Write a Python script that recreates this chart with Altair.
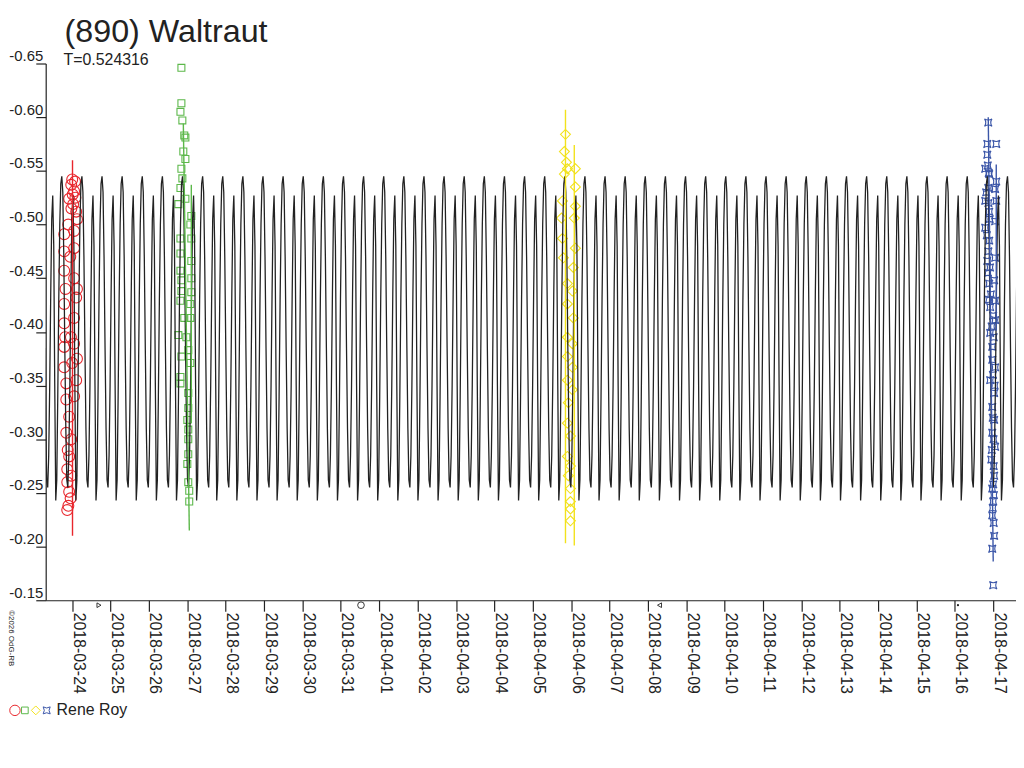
import altair as alt
import pandas as pd

# ---------------- text ----------------
TITLE = "(890) Waltraut"
SUBTITLE = "T=0.524316"
OBSERVER = "Rene Roy"
COPYRIGHT = "\u00a92026 OdG-RB"

# ---------------- axes ----------------
tick_dates = ["2018-03-24", "2018-03-25", "2018-03-26", "2018-03-27", "2018-03-28",
              "2018-03-29", "2018-03-30", "2018-03-31", "2018-04-01", "2018-04-02",
              "2018-04-03", "2018-04-04", "2018-04-05", "2018-04-06", "2018-04-07",
              "2018-04-08", "2018-04-09", "2018-04-10", "2018-04-11", "2018-04-12",
              "2018-04-13", "2018-04-14", "2018-04-15", "2018-04-16", "2018-04-17"]
mag_ticks = [-0.65, -0.60, -0.55, -0.50, -0.45, -0.40, -0.35, -0.30, -0.25, -0.20, -0.15]
x_start = "2018-03-23T07:26:00"
x_end = "2018-04-17T14:15:00"

# ---------------- model lightcurve (one rotation, 20 phase samples) ----------------
period_days = 0.524316
model_epoch = "2018-03-28T10:45:00"   # primary maximum
model_shape = [-0.545, -0.530, -0.470, -0.385, -0.310, -0.262, -0.255, -0.285, -0.350, -0.435,
               -0.505, -0.527, -0.480, -0.350, -0.243, -0.262, -0.340, -0.430, -0.500, -0.538]

# ---------------- sessions ----------------
red_base = "2018-03-24T00:00:00"
red_hours = [0.0, -0.6, 1.2, -1.9, 0.6, 2.5, -5.0, 1.2, -5.0, 1.2, -5.0, 1.2, 2.5, -5.0, 1.2, -5.0,
             1.2, -5.0, 0.0, -5.0, 2.5, -3.7, 1.2, -3.7, -1.9, -3.7, -0.6, -1.9, -3.1, -0.6, -3.1,
             -1.9, -3.1, 1.8, 0.3, 2.0, -0.5, 3.0, -2.5, -1.2, 3.0, -4.2, -0.8, 3.0, -4.4, -2.8,
             -1.0, -2.4]
red_mag = [-0.542, -0.537, -0.531, -0.524, -0.519, -0.512, -0.491, -0.494, -0.475, -0.478, -0.457,
           -0.450, -0.432, -0.426, -0.413, -0.408, -0.389, -0.386, -0.371, -0.367, -0.355, -0.352,
           -0.340, -0.337, -0.321, -0.306, -0.300, -0.284, -0.272, -0.266, -0.260, -0.251, -0.234,
           -0.540, -0.528, -0.525, -0.515, -0.505, -0.500, -0.470, -0.440, -0.440, -0.395, -0.375,
           -0.395, -0.290, -0.245, -0.238]

green_base = "2018-03-27T00:00:00"
green_hours = [-3.7, -3.7, -4.3, -3.1, -1.9, -1.2, -2.5, -1.2, -3.7, -3.1, -4.3, -1.2, -5.6, 2.5,
               1.9, -4.3, 2.5, -4.3, 2.5, -4.3, 2.5, -3.7, -3.7, 2.5, -4.3, 1.9, -1.9, 1.9, -5.6,
               -0.6, 0.6, -3.7, 1.9, -4.3, -4.3, 0.6, 0.6, 0.0, 0.6, 0.6, 0.6, 0.0, 0.6, 1.2, 1.2]
green_mag = [-0.646, -0.613, -0.605, -0.597, -0.583, -0.581, -0.568, -0.561, -0.552, -0.543, -0.534,
             -0.524, -0.519, -0.508, -0.500, -0.487, -0.487, -0.473, -0.466, -0.457, -0.450, -0.448,
             -0.438, -0.437, -0.429, -0.426, -0.413, -0.413, -0.397, -0.395, -0.383, -0.377, -0.371,
             -0.358, -0.352, -0.343, -0.329, -0.318, -0.309, -0.300, -0.286, -0.277, -0.260, -0.252,
             -0.242]

yellow_base = "2018-04-06T00:00:00"
yellow_hours = [-3.5, -4.2, -2.9, -2.3, 2.7, -4.2, 2.7, -5.4, 2.7, -6.0, 2.0, -5.4, 2.7, -4.8, 1.4,
                -2.3, 0.8, -2.3, 1.4, -2.3, 0.8, -2.3, 0.8, -2.3, 0.8, -1.7, -2.3, -0.4, -2.3, -0.4,
                -1.7, -0.4, -0.4, -0.4, -0.4]
yellow_mag = [-0.584, -0.568, -0.558, -0.552, -0.552, -0.547, -0.535, -0.522, -0.517, -0.506, -0.506,
              -0.487, -0.478, -0.469, -0.460, -0.445, -0.438, -0.426, -0.413, -0.395, -0.389, -0.377,
              -0.367, -0.355, -0.346, -0.334, -0.315, -0.303, -0.284, -0.275, -0.266, -0.254, -0.242,
              -0.235, -0.224]

blue_base = "2018-04-17T00:00:00"
blue_hours = [-3.1, -3.7, 1.9, -3.7, -5.0, -2.5, 1.9, -3.1, 1.2, -5.0, 1.9, -2.5, 1.2, -5.0, -2.5,
              1.2, -3.7, 0.6, -2.5, 1.2, -1.9, 1.2, -1.9, -0.6, -0.6, 1.2, -1.9, 0.6, -0.6, 0.6,
              -0.6, 1.2, -1.2, 0.6, -0.6, 0.0, -0.6, 0.6, -0.6, 0.0, -3.4, -2.8, -4.4, -3.0, -2.2,
              -4.0, -3.0, -2.0, -3.3, -1.5, -2.7, 0.0, -1.0, 0.3, -0.2, 0.9, -0.3, 0.2, -0.9, 0.3,
              0.0, 0.4, -0.3, 0.3]
blue_mag = [-0.595, -0.575, -0.575, -0.565, -0.552, -0.547, -0.540, -0.534, -0.533, -0.522, -0.522,
            -0.512, -0.503, -0.497, -0.485, -0.469, -0.466, -0.448, -0.445, -0.429, -0.423, -0.411,
            -0.399, -0.386, -0.374, -0.367, -0.355, -0.343, -0.330, -0.318, -0.306, -0.293, -0.281,
            -0.266, -0.254, -0.242, -0.229, -0.210, -0.198, -0.164, -0.555, -0.548, -0.530, -0.520,
            -0.505, -0.490, -0.475, -0.460, -0.455, -0.435, -0.430, -0.415, -0.405, -0.395, -0.360,
            -0.350, -0.320, -0.300, -0.290, -0.275, -0.258, -0.248, -0.236, -0.222]

# vertical session bars (start time, end time, bright end, faint end)
bar_color = ["red", "green", "green", "yellow", "yellow", "blue", "blue"]
bar_t1 = ["2018-03-24T00:12:00", "2018-03-26T21:30:00", "2018-03-27T02:30:00", "2018-04-05T20:30:00",
          "2018-04-06T02:00:00", "2018-04-16T20:54:00", "2018-04-17T01:54:00"]
bar_t2 = ["2018-03-24T00:12:00", "2018-03-27T01:15:00", "2018-03-27T02:30:00", "2018-04-05T20:30:00",
          "2018-04-06T02:00:00", "2018-04-17T00:00:00", "2018-04-17T01:54:00"]
bar_top = [-0.560, -0.594, -0.537, -0.607, -0.574, -0.600, -0.556]
bar_bot = [-0.210, -0.215, -0.315, -0.203, -0.201, -0.186, -0.401]

# moon phases
moon_time = ["2018-03-24T16:45:00", "2018-03-31T12:37:00", "2018-04-08T07:18:00", "2018-04-16T01:57:00"]
moon_shape = ["triangle-right", "circle", "triangle-left", "circle"]
moon_size = [22, 45, 22, 5]

COLORS = {"red": "#e8262c", "green": "#5cb84a", "yellow": "#f2e21c", "blue": "#3b56a8"}
STAR = "M -1 -1 Q 0 -0.35 1 -1 Q 0.35 0 1 1 Q 0 0.35 -1 1 Q -0.35 0 -1 -1 Z"
FONT = "Liberation Sans"
INK = "#222222"


def ms(s):
    return int(pd.Timestamp(s, tz="UTC").value // 10**6)


DAY_MS = 86400000
x_scale = alt.Scale(type="utc", domain=[ms(x_start), ms(x_end)], nice=False)
y_scale = alt.Scale(domain=[-0.65, -0.15], reverse=True, nice=False, zero=False)

x_axis = alt.Axis(values=[ms(d) for d in tick_dates],
                  labelExpr="utcFormat(datum.value, '%Y-%m-%d')",
                  labelAngle=90, labelAlign="left", labelBaseline="alphabetic", labelPadding=1,
                  labelOffset=1, tickSize=11, labelFontSize=16, labelFont=FONT, labelColor=INK,
                  domainColor=INK, tickColor=INK, domainWidth=1.2, tickWidth=1.2, grid=False,
                  title=None, labelOverlap=False, labelFlush=False, labelBound=False)
y_axis = alt.Axis(values=mag_ticks, labelExpr="'-' + format(abs(datum.value), '.2f')",
                  tickSize=10, labelPadding=-7, labelAlign="right", labelBaseline="bottom",
                  labelFontSize=15, labelFont=FONT, labelColor=INK, domainColor=INK,
                  tickColor=INK, domainWidth=1.2, tickWidth=1.2, grid=False, title=None,
                  labelOverlap=False, labelFlush=False, labelBound=False)


def X(field):
    return alt.X(field, type="temporal", scale=x_scale, axis=x_axis)


def Y(field):
    return alt.Y(field, type="quantitative", scale=y_scale, axis=y_axis)


# model curve built by repeating the one-rotation shape with the period
epoch = ms(model_epoch)
p_ms = period_days * DAY_MS
lo, hi = ms(x_start), ms(x_end)
rows = []
for n in range(-12, 45):
    for j, m in enumerate(model_shape):
        t = epoch + (n + j / len(model_shape)) * p_ms
        if lo - p_ms / 10 <= t <= hi + p_ms / 10:
            rows.append({"t": t, "mag": m})
model_df = pd.DataFrame(rows).sort_values("t")


def session_df(base, hours, mags):
    b = ms(base)
    return pd.DataFrame({"t": [b + h * 3600000 for h in hours], "mag": mags})


sessions = [
    (session_df(red_base, red_hours, red_mag), "circle", 120, COLORS["red"]),
    (session_df(green_base, green_hours, green_mag), "square", 49, COLORS["green"]),
    (session_df(yellow_base, yellow_hours, yellow_mag), "diamond", 100, COLORS["yellow"]),
    (session_df(blue_base, blue_hours, blue_mag), STAR, 56, COLORS["blue"]),
]

layers = []
for df, shape, size, color in sessions:
    layers.append(
        alt.Chart(df).mark_point(shape=shape, size=size, filled=False, strokeWidth=1.1,
                                 color=color, opacity=1)
        .encode(x=X("t"), y=Y("mag"))
    )

layers.append(
    alt.Chart(model_df).mark_line(color=INK, strokeWidth=1.3, clip=True, interpolate="linear")
    .encode(x=X("t"), y=Y("mag"))
)

bars_df = pd.DataFrame({
    "t1": [ms(s) for s in bar_t1], "t2": [ms(s) for s in bar_t2],
    "top": bar_top, "bot": bar_bot, "c": bar_color,
})
layers.append(
    alt.Chart(bars_df).mark_rule(strokeWidth=1.4)
    .encode(x=X("t1"), x2="t2", y=Y("top"), y2="bot",
            color=alt.Color("c:N", scale=alt.Scale(domain=list(COLORS.keys()),
                                                   range=list(COLORS.values())), legend=None))
)

for t, shp, sz in zip(moon_time, moon_shape, moon_size):
    layers.append(
        alt.Chart(pd.DataFrame({"t": [ms(t)]}))
        .mark_point(shape=shp, size=sz, filled=(sz < 10), color=INK, strokeWidth=0.9, opacity=1)
        .encode(x=X("t"), y=alt.value(546))
    )

one = pd.DataFrame({"a": [0]})
layers.append(alt.Chart(one).mark_text(text=TITLE, fontSize=32.5, font=FONT, color=INK,
                                       align="left", baseline="alphabetic")
              .encode(x=alt.value(19), y=alt.value(-22)))
layers.append(alt.Chart(one).mark_text(text=SUBTITLE, fontSize=16, font=FONT, color=INK,
                                       align="left", baseline="alphabetic")
              .encode(x=alt.value(18), y=alt.value(2)))
layers.append(alt.Chart(one).mark_text(text=COPYRIGHT, fontSize=8, font=FONT, color=INK,
                                       align="left", baseline="alphabetic", angle=90)
              .encode(x=alt.value(-37), y=alt.value(551)))

legend_items = [("circle", 110, COLORS["red"], -31), ("square", 45, COLORS["green"], -21),
                ("diamond", 80, COLORS["yellow"], -10), (STAR, 50, COLORS["blue"], 1)]
for shp, sz, col, lx in legend_items:
    layers.append(alt.Chart(one).mark_point(shape=shp, size=sz, filled=False, color=col,
                                            strokeWidth=1, opacity=1)
                  .encode(x=alt.value(lx), y=alt.value(652)))
layers.append(alt.Chart(one).mark_text(text=OBSERVER, fontSize=16, font=FONT, color=INK,
                                       align="left", baseline="alphabetic")
              .encode(x=alt.value(11), y=alt.value(657)))

chart = alt.layer(*layers).properties(
    width=978, height=541,
    autosize=alt.AutoSizeParams(type="none"),
    padding={"left": 38, "top": 53, "right": 0, "bottom": 150},
    background="white",
).configure_view(stroke=None)

chart.save("out.html", embed_options={"renderer": "svg", "actions": False})
